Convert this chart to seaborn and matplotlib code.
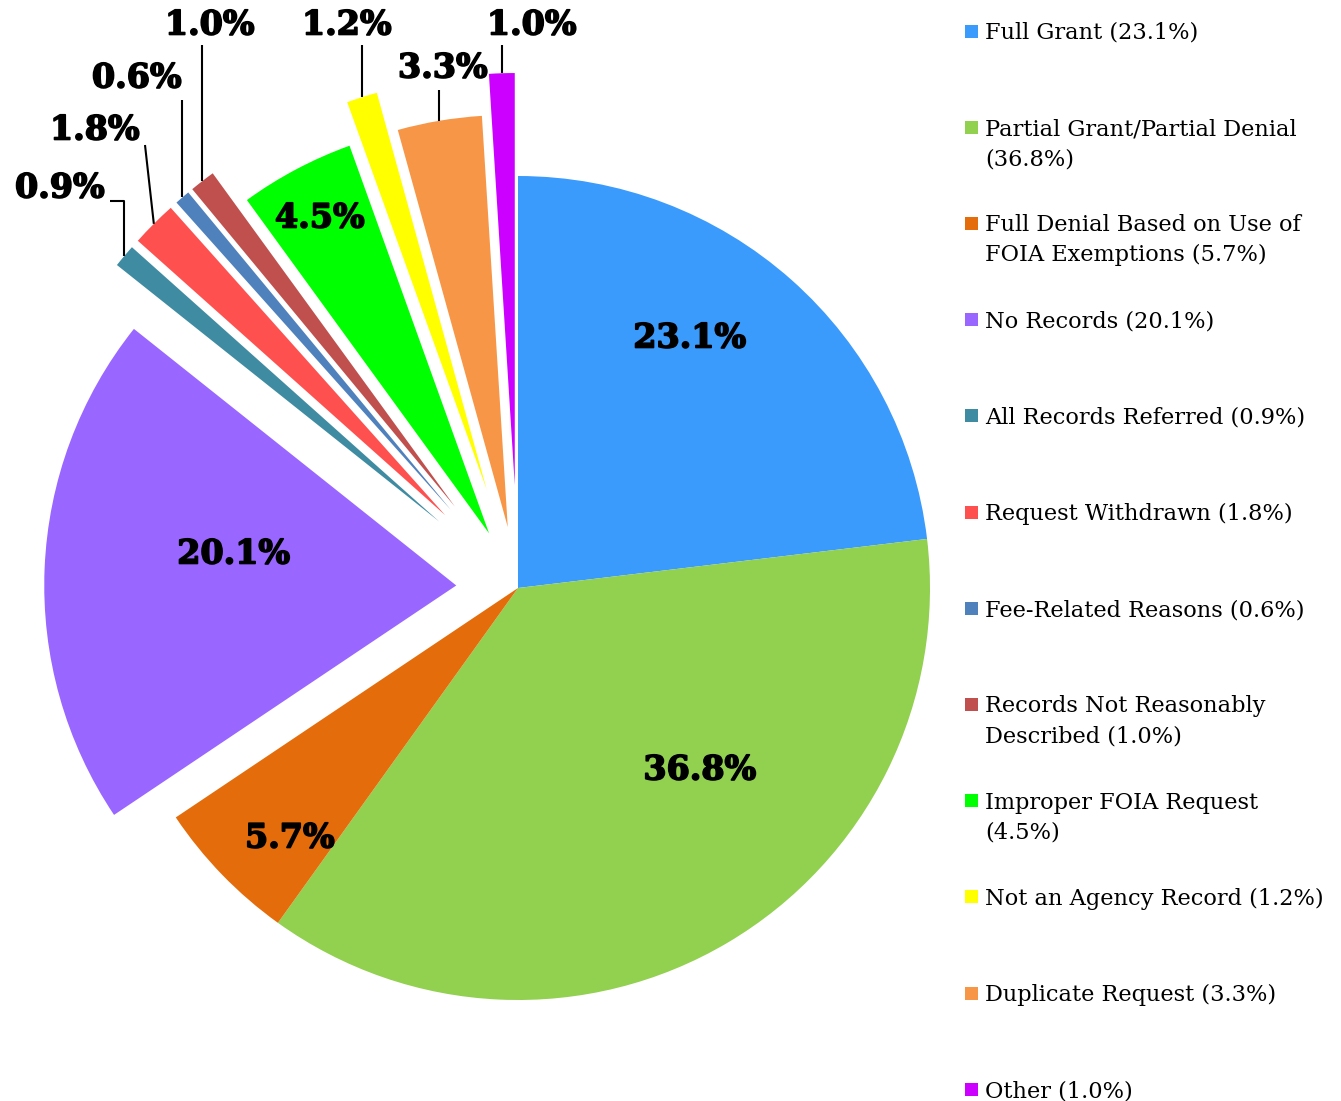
import matplotlib
matplotlib.use("Agg")
import matplotlib.pyplot as plt
import matplotlib.patheffects as pe
import seaborn as sns
import numpy as np
from matplotlib.patches import Rectangle

# =====================================================
# DATA
# =====================================================

categories = [
    "Full Grant",
    "Partial Grant/Partial Denial",
    "Full Denial Based on Use of FOIA Exemptions",
    "No Records",
    "All Records Referred",
    "Request Withdrawn",
    "Fee-Related Reasons",
    "Records Not Reasonably Described",
    "Improper FOIA Request",
    "Not an Agency Record",
    "Duplicate Request",
    "Other",
]

shares = [23.1, 36.8, 5.7, 20.1, 0.9, 1.8, 0.6, 1.0, 4.5, 1.2, 3.3, 1.0]

legend_labels = [
    "Full Grant (23.1%)",
    "Partial Grant/Partial Denial\n(36.8%)",
    "Full Denial Based on Use of\nFOIA Exemptions (5.7%)",
    "No Records (20.1%)",
    "All Records Referred (0.9%)",
    "Request Withdrawn (1.8%)",
    "Fee-Related Reasons (0.6%)",
    "Records Not Reasonably\nDescribed (1.0%)",
    "Improper FOIA Request\n(4.5%)",
    "Not an Agency Record (1.2%)",
    "Duplicate Request (3.3%)",
    "Other (1.0%)",
]

colors = [
    "#3A9BFD", "#92D050", "#E46C0A", "#9966FF",
    "#3F8CA2", "#FF5050", "#4F81BD", "#C0504D",
    "#00FF00", "#FFFF00", "#F79646", "#CC00FF",
]

# =====================================================
# LAYOUT (pixels, y measured from top)
# =====================================================

W, H = 1341, 1101
R = 412
explode_frac = [0, 0, 0, 0.15, 0.25, 0.25, 0.25, 0.25, 0.15, 0.25, 0.15, 0.25]

label_pos = {
    0: (690, 338), 1: (700, 770), 2: (290, 838), 3: (234, 554),
    4: (60, 188), 5: (95, 130), 6: (137, 78), 7: (210, 25),
    8: (320, 218), 9: (347, 25), 10: (443, 68), 11: (532, 25),
}

# None for x means "straight up from the slice"
leaders = {
    4: [(None, 201), (110, 201)],
    5: [(145, 145)],
    6: [(None, 100)],
    7: [(None, 45)],
    9: [(None, 45)],
    10: [(None, 90)],
    11: [(None, 45)],
}


def px(x, y):
    return x, H - y


# =====================================================
# STYLE
# =====================================================

sns.set_theme(style="white")
plt.rcParams["font.family"] = ["DejaVu Serif"]

fig = plt.figure(figsize=(W / 100, H / 100), dpi=100)
ax = fig.add_axes([0, 0, 1, 1])

# =====================================================
# PIE
# =====================================================

wedges, _ = ax.pie(
    shares,
    colors=colors,
    explode=[e * R for e in explode_frac],
    startangle=90,
    counterclock=False,
    radius=R,
    center=px(518, 588),
    wedgeprops=dict(linewidth=0),
)

ax.set_xlim(0, W)
ax.set_ylim(0, H)
ax.set_aspect("equal")
ax.axis("off")

# =====================================================
# PERCENT LABELS + LEADERS
# =====================================================

heavy = [pe.withStroke(linewidth=1.2, foreground="black")]

for i, w in enumerate(wedges):
    x, y = px(*label_pos[i])
    ax.text(
        x, y, f"{shares[i]:.1f}%",
        ha="center", va="center",
        fontsize=24, fontweight="bold", color="black",
        path_effects=heavy,
    )
    if i in leaders:
        mid = np.deg2rad((w.theta1 + w.theta2) / 2)
        sx = w.center[0] + w.r * np.cos(mid)
        sy = w.center[1] + w.r * np.sin(mid)
        xs, ys = [sx], [sy]
        for lx, ly in leaders[i]:
            xs.append(sx if lx is None else lx)
            ys.append(H - ly)
        ax.plot(xs, ys, color="black", lw=1.5, solid_capstyle="butt")

# =====================================================
# LEGEND
# =====================================================

for i, lab in enumerate(legend_labels):
    yc = 31 + i * 96.2
    ax.add_patch(Rectangle(px(965, yc + 6.5), 13, 13,
                           facecolor=colors[i], edgecolor="none"))
    for k, line in enumerate(lab.split("\n")):
        ax.text(*px(985, yc + 8 + k * 30), line,
                ha="left", va="baseline", fontsize=16.2, color="black")

fig.savefig("out.png", dpi=100)
plt.close(fig)
